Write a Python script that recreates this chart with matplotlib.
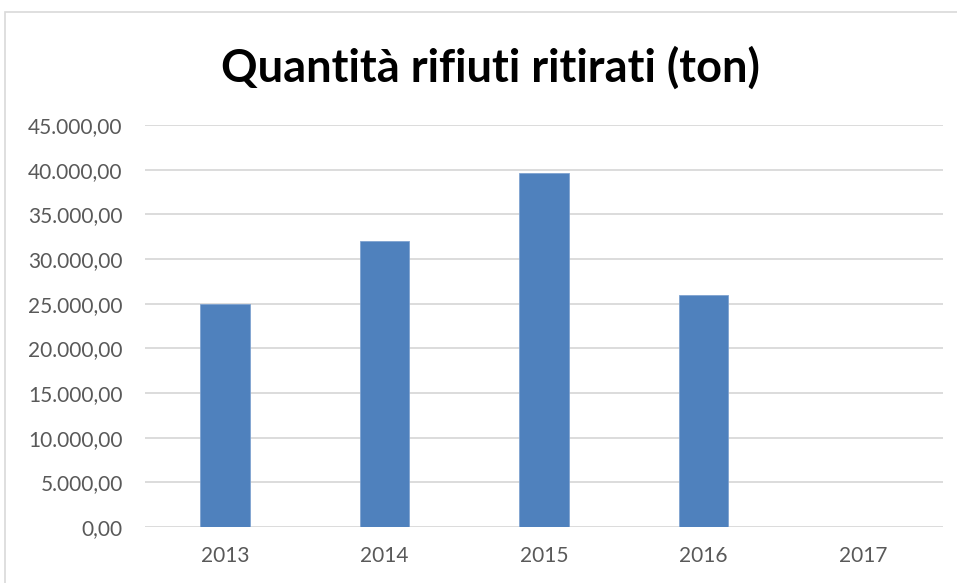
import matplotlib.pyplot as plt
from matplotlib.ticker import FuncFormatter, MultipleLocator
from matplotlib.patches import Rectangle

years = ["2013", "2014", "2015", "2016", "2017"]
tons = [24950, 32000, 39600, 25950, 0]

plt.rcParams['font.family'] = ['Lato', 'DejaVu Sans']

fig = plt.figure(figsize=(9.57, 5.83), dpi=100)
# outer chart border (cropped on right/bottom)
fig.patches.append(Rectangle((5 / 957, -0.1), 1.2, 1 - 12 / 583 + 0.1,
                             transform=fig.transFigure, fill=False,
                             edgecolor='#d9d9d9', linewidth=1.2))

ax = fig.add_axes([145 / 957, 1 - 527 / 583, 798 / 957, 402 / 583])
x = range(len(years))
ax.bar(x, tons, width=0.31, color='#4f81bd', edgecolor='#7fa3d0', linewidth=0.6, zorder=3)

ax.set_xlim(-0.5, len(years) - 0.5)
ax.set_ylim(0, 45000)
ax.yaxis.set_major_locator(MultipleLocator(5000))


def it_fmt(v, pos):
    s = f"{v:,.2f}"
    return s.replace(",", "X").replace(".", ",").replace("X", ".")


ax.yaxis.set_major_formatter(FuncFormatter(it_fmt))
ax.set_xticks(list(x))
ax.set_xticklabels(years)
ax.grid(axis='y', color='#d9d9d9', linewidth=1.3, zorder=0)
for s in ax.spines.values():
    s.set_visible(False)
ax.tick_params(length=0, labelsize=15, colors='#595959')
ax.tick_params(axis='y', pad=16)
ax.tick_params(axis='x', pad=14)

fig.text(0.512, 1 - 68 / 583, "Quantità rifiuti ritirati (ton)", ha='center', va='center',
         fontsize=32.5, fontweight='bold', color='black')

fig.savefig("out.png", dpi=100)
